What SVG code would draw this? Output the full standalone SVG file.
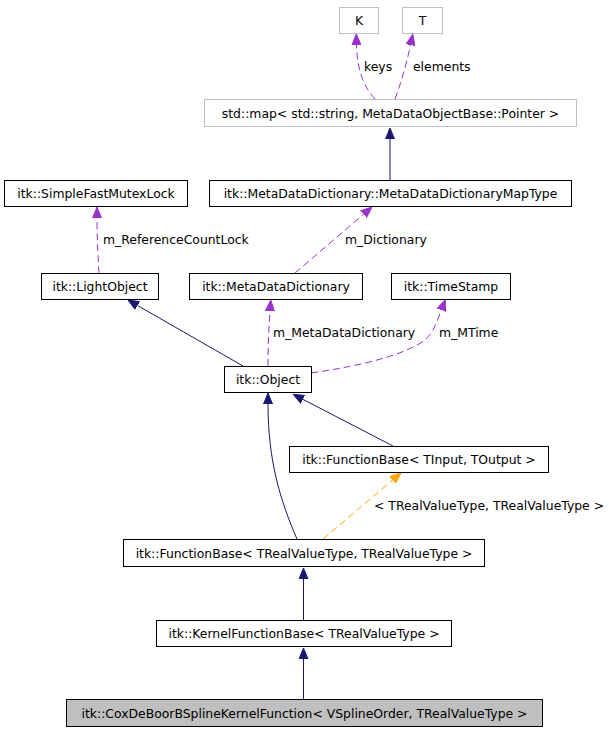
<svg xmlns="http://www.w3.org/2000/svg" width="609" height="733" viewBox="0 0 609 733">
<style>
  .box{fill:#ffffff;stroke:#000000;stroke-width:1}
  .grey{fill:#ffffff;stroke:#bfbfbf;stroke-width:1}
  .sel{fill:#bfbfbf;stroke:#000000;stroke-width:1}
  text{font-family:"DejaVu Sans","Liberation Sans",sans-serif;font-size:12.4px;fill:#000000}
  .c{text-anchor:middle}
  .inh{fill:none;stroke:#191970;stroke-width:1}
  .use{fill:none;stroke:#9a32cd;stroke-width:1;stroke-dasharray:7,4}
  .tpl{fill:none;stroke:#ffa500;stroke-width:1;stroke-dasharray:7,4}
</style>
<defs>
  <marker id="aNavy" viewBox="0 0 11 10" refX="0" refY="5" markerWidth="11" markerHeight="10" orient="auto" markerUnits="userSpaceOnUse">
    <path d="M0,0.5 L11,5 L0,9.5 z" fill="#191970" stroke="#191970" stroke-width="1"/>
  </marker>
  <marker id="aPurple" viewBox="0 0 11 10" refX="0" refY="5" markerWidth="11" markerHeight="10" orient="auto" markerUnits="userSpaceOnUse">
    <path d="M0,0.5 L11,5 L0,9.5 z" fill="#9a32cd" stroke="#9a32cd" stroke-width="1"/>
  </marker>
  <marker id="aOrange" viewBox="0 0 11 10" refX="0" refY="5" markerWidth="11" markerHeight="10" orient="auto" markerUnits="userSpaceOnUse">
    <path d="M0,0.5 L11,5 L0,9.5 z" fill="#ffa500" stroke="#ffa500" stroke-width="1"/>
  </marker>
</defs>
<rect width="609" height="733" fill="#ffffff"/>

<g id="connectors">
  <path class="use" d="M375,99 C365,88 357,72 356.5,45" marker-end="url(#aPurple)"/>
  <text x="364" y="71">keys</text>
  <path class="use" d="M395,99 C400,86 406,66 410.5,45" marker-end="url(#aPurple)"/>
  <text x="413" y="71">elements</text>
  <path class="inh" d="M390,180 L390,139" marker-end="url(#aNavy)"/>
  <path class="use" d="M99,273 C98,256 97,238 97,218" marker-end="url(#aPurple)"/>
  <text x="103" y="244">m_ReferenceCountLock</text>
  <path class="use" d="M295,273 L363.6,214.2" marker-end="url(#aPurple)"/>
  <text x="345" y="244">m_Dictionary</text>
  <path class="inh" d="M243,366 L137.5,305.5" marker-end="url(#aNavy)"/>
  <path class="use" d="M268,366 C268,345 269,325 270,311" marker-end="url(#aPurple)"/>
  <text x="273" y="337">m_MetaDataDictionary</text>
  <path class="use" d="M311,373 C360,366 405,355 425,340 C433,333 437,322 441.4,310" marker-end="url(#aPurple)"/>
  <text x="439" y="337">m_MTime</text>
  <path class="inh" d="M393,446 L303,399.4" marker-end="url(#aNavy)"/>
  <path class="inh" d="M297,539 C280,500 268,460 268,404" marker-end="url(#aNavy)"/>
  <path class="tpl" d="M323,539 L392.6,480" marker-end="url(#aOrange)"/>
  <text x="374" y="510">&lt; TRealValueType, TRealValueType &gt;</text>
  <path class="inh" d="M303.5,620 L303.5,579" marker-end="url(#aNavy)"/>
  <path class="inh" d="M303.5,699 L303.5,659" marker-end="url(#aNavy)"/>
</g>

<g id="K"><rect class="grey" x="339.5" y="7.5" width="39" height="26"/><text class="c" x="359" y="25">K</text></g>
<g id="T"><rect class="grey" x="402.5" y="7.5" width="40" height="26"/><text class="c" x="422.5" y="25">T</text></g>
<g id="stdmap"><rect class="grey" x="204.5" y="99.5" width="372" height="27"/><text class="c" x="390.5" y="117.5">std::map&lt; std::string, MetaDataObjectBase::Pointer &gt;</text></g>
<g id="SimpleFastMutexLock"><rect class="box" x="4.5" y="180.5" width="183" height="26"/><text class="c" x="96" y="198">itk::SimpleFastMutexLock</text></g>
<g id="MetaDataDictionaryMapType"><rect class="box" x="209.5" y="180.5" width="362" height="26"/><text class="c" x="390.5" y="198">itk::MetaDataDictionary::MetaDataDictionaryMapType</text></g>
<g id="LightObject"><rect class="box" x="41.5" y="273.5" width="117" height="26"/><text class="c" x="100" y="291">itk::LightObject</text></g>
<g id="MetaDataDictionary"><rect class="box" x="189.5" y="273.5" width="173" height="26"/><text class="c" x="276" y="291">itk::MetaDataDictionary</text></g>
<g id="TimeStamp"><rect class="box" x="391.5" y="273.5" width="119" height="26"/><text class="c" x="451" y="291">itk::TimeStamp</text></g>
<g id="Object"><rect class="box" x="224.5" y="366.5" width="87" height="26"/><text class="c" x="268" y="384">itk::Object</text></g>
<g id="FunctionBaseInOut"><rect class="box" x="289.5" y="446.5" width="259" height="26"/><text class="c" x="419" y="464">itk::FunctionBase&lt; TInput, TOutput &gt;</text></g>
<g id="FunctionBaseReal"><rect class="box" x="123.5" y="539.5" width="361" height="27"/><text class="c" x="304" y="557.5">itk::FunctionBase&lt; TRealValueType, TRealValueType &gt;</text></g>
<g id="KernelFunctionBase"><rect class="box" x="156.5" y="620.5" width="295" height="26"/><text class="c" x="304" y="638">itk::KernelFunctionBase&lt; TRealValueType &gt;</text></g>
<g id="CoxDeBoorBSplineKernelFunction"><rect class="sel" x="66.5" y="699.5" width="476" height="27"/><text class="c" x="304.5" y="717.5">itk::CoxDeBoorBSplineKernelFunction&lt; VSplineOrder, TRealValueType &gt;</text></g>
</svg>
